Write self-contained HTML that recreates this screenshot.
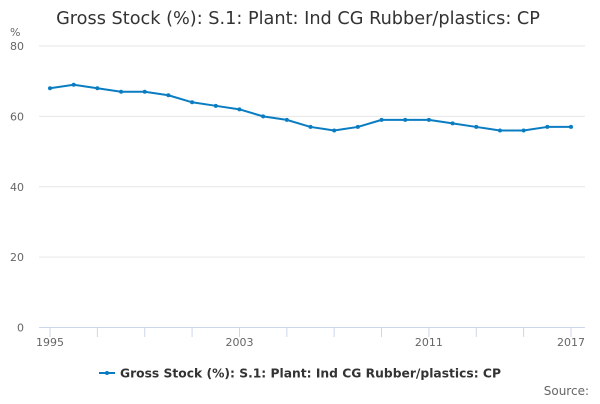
<!DOCTYPE html>
<html><head><meta charset="utf-8"><style>
body{margin:0;background:#fff;font-family:"DejaVu Sans","Liberation Sans",sans-serif;}
svg text{font-family:"DejaVu Sans","Liberation Sans",sans-serif;}
</style></head><body>
<svg id="chart" width="600" height="400" xmlns="http://www.w3.org/2000/svg">
<text x="298" y="24" text-anchor="middle" font-size="17.7" fill="#333">Gross Stock (%): S.1: Plant: Ind CG Rubber/plastics: CP</text>
<text x="10" y="36" font-size="11" fill="#666">%</text>
<g id="grid"></g><g id="xaxis"></g><g id="series"></g>
<g>
<line x1="99" y1="373" x2="115" y2="373" stroke="#0a7dc2" stroke-width="2"/>
<circle cx="107" cy="373" r="2" fill="#0a7dc2"/>
<text x="120" y="377.5" font-size="12.3" font-weight="bold" fill="#333">Gross Stock (%): S.1: Plant: Ind CG Rubber/plastics: CP</text>
</g>
<text x="589" y="395" text-anchor="end" font-size="12" fill="#666">Source:</text>
</svg>
<script>
const years=[1995,1996,1997,1998,1999,2000,2001,2002,2003,2004,2005,2006,2007,2008,2009,2010,2011,2012,2013,2014,2015,2016,2017];
const values=[68,69,68,67,67,66,64,63,62,60,59,57,56,57,59,59,59,58,57,56,56,57,57];
const yTicks=[0,20,40,60,80];
const xLabels=[1995,2003,2011,2017];
const NS="http://www.w3.org/2000/svg";
const x=y=>50+(y-1995)*(521/22);
const yS=v=>327.5-v*(281.5/80);
function mk(tag,attrs,parent){const e=document.createElementNS(NS,tag);for(const k in attrs)e.setAttribute(k,attrs[k]);parent.appendChild(e);return e;}
const grid=document.getElementById('grid'),xa=document.getElementById('xaxis'),ser=document.getElementById('series');
yTicks.forEach(t=>{
 if(t>0){const l=mk('line',{x1:39,x2:585,y1:yS(t),y2:yS(t),stroke:'#e6e6e6','stroke-width':1},grid);
 
 }
 const tx=mk('text',{x:24,y:yS(t)+4,'text-anchor':'end','font-size':11,fill:'#666'},grid);tx.textContent=t;
 
 
});
const ax=mk('line',{x1:39,x2:585,y1:327.5,y2:327.5,stroke:'#ccd6eb','stroke-width':1},xa);


for(let yr=1995;yr<=2017;yr+=2){const t=mk('line',{x1:x(yr),x2:x(yr),y1:327.5,y2:337,stroke:'#ccd6eb','stroke-width':1},xa);
 
 }
xLabels.forEach(yr=>{const t=mk('text',{x:x(yr),y:346,'text-anchor':'middle','font-size':11,fill:'#666'},xa);t.textContent=yr;
 
 });
const pts=years.map((yr,i)=>x(yr)+','+yS(values[i])).join(' ');
const pl=mk('polyline',{points:pts,fill:'none',stroke:'#0a7dc2','stroke-width':2,'stroke-linejoin':'round'},ser);


years.forEach((yr,i)=>{const c=mk('circle',{cx:x(yr),cy:yS(values[i]),r:2,fill:'#0a7dc2'},ser);
 
 });
</script>
</body></html>
